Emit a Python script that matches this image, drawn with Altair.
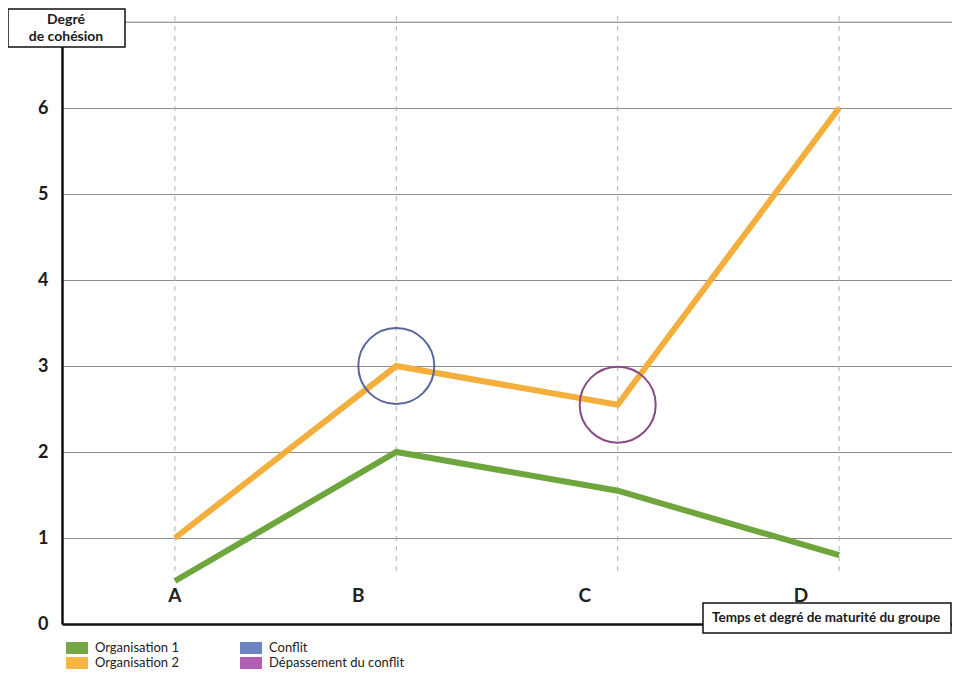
import altair as alt
import pandas as pd

# ---- data ----
etapes = ["A", "B", "C", "D"]
organisation_1 = [0.5, 2.0, 1.55, 0.8]
organisation_2 = [1.0, 3.0, 2.55, 6.0]
series = ["Organisation 1", "Organisation 2"]
annotations = ["Conflit", "Dépassement du conflit"]
etapes_annotees = ["B", "C"]
graduations = [0, 1, 2, 3, 4, 5, 6, 7]
titre_y = ["Degré", "de cohésion"]
titre_x = "Temps et degré de maturité du groupe"

entrees_legende = series + annotations
couleurs_traits = ["#6ea53c", "#f4ae3c", "#58689a", "#874c88"]
couleurs_legende = ["#74a844", "#f6b545", "#6a84c0", "#b05fb2"]
decalage_lettres = [0, -38, -33, -38]

FONT = "Lato"

lignes = pd.DataFrame(
    [{"etape": e, "valeur": v, "serie": series[0]} for e, v in zip(etapes, organisation_1)]
    + [{"etape": e, "valeur": v, "serie": series[1]} for e, v in zip(etapes, organisation_2)]
)
cercles = pd.DataFrame({
    "etape": etapes_annotees,
    "valeur": [organisation_2[etapes.index(e)] for e in etapes_annotees],
    "serie": annotations,
})
lettres = pd.DataFrame({"etape": etapes})
un = pd.DataFrame({"k": [0]})
sommet = pd.DataFrame({"valeur": [graduations[-1]]})

x_enc = alt.X(
    "etape:O",
    scale=alt.Scale(type="point", padding=0.51, domain=etapes),
    axis=alt.Axis(title=None, labels=False, ticks=False, grid=False,
                  domainColor="#111111", domainWidth=2.5),
)
y_enc = alt.Y(
    "valeur:Q",
    scale=alt.Scale(domain=[0, 7.07], nice=False, zero=True),
    axis=alt.Axis(
        values=graduations, title=None, ticks=False,
        labelExpr="datum.value == 7 ? '' : datum.label",
        labelFont=FONT, labelFontSize=18, labelFontWeight="bold",
        labelColor="#1a1a1a", labelPadding=14,
        grid=True, gridColor="#8c8c8c", gridWidth=1,
        domainColor="#111111", domainWidth=2.5,
    ),
)
color_enc = alt.Color(
    "serie:N",
    scale=alt.Scale(domain=entrees_legende, range=couleurs_traits),
    legend=None,
)

reperes = alt.Chart(lettres).mark_rule(
    color="#b0b0b0", strokeWidth=1, strokeDash=[5, 5]
).encode(x=x_enc, y=alt.value(0), y2=alt.value(560))

ligne_haute = alt.Chart(sommet).mark_rule(color="#b0b0b0", strokeWidth=1).encode(
    y=y_enc, x=alt.value(0), x2=alt.value(890)
)

courbes = alt.Chart(lignes).mark_line(strokeWidth=6, strokeJoin="miter").encode(
    x=x_enc, y=y_enc, color=color_enc, detail="serie:N"
)

anneaux = alt.Chart(cercles).mark_point(
    shape="circle", filled=False, size=5776, strokeWidth=2, opacity=1
).encode(x=x_enc, y=y_enc, color=color_enc)

couches_lettres = []
for lettre, d in zip(etapes, decalage_lettres):
    couches_lettres.append(
        alt.Chart(lettres).transform_filter(alt.datum.etape == lettre).mark_text(
            font=FONT, fontSize=19, fontWeight="bold", color="#222222",
            baseline="middle", align="center", dx=d,
        ).encode(x=x_enc, y=alt.value(580), text="etape:N")
    )

# ---- legend (two columns, column-major) ----
couches_legende = []
for i, (nom, coul) in enumerate(zip(entrees_legende, couleurs_legende)):
    col, rang = i // 2, i % 2
    x0 = 4 + col * 174
    y0 = 632 + rang * 15
    couches_legende.append(
        alt.Chart(un).mark_rect(fill=coul).encode(
            x=alt.value(x0), x2=alt.value(x0 + 22),
            y=alt.value(y0 - 6), y2=alt.value(y0 + 6),
        )
    )
    couches_legende.append(
        alt.Chart(un).mark_text(
            text=nom, font=FONT, fontSize=13, color="#222222",
            align="left", baseline="middle",
        ).encode(x=alt.value(x0 + 29), y=alt.value(y0))
    )

boite_y = alt.Chart(un).mark_rect(fill="white", stroke="#111111", strokeWidth=1.5).encode(
    x=alt.value(-54), x2=alt.value(63), y=alt.value(-7), y2=alt.value(31)
)
texte_y = alt.Chart(un).mark_text(
    text=titre_y, font=FONT, fontSize=14, fontWeight="bold", color="#1a1a1a",
    align="center", baseline="middle", lineHeight=17,
).encode(x=alt.value(4), y=alt.value(4))

boite_x = alt.Chart(un).mark_rect(fill="white", stroke="#111111", strokeWidth=1.5).encode(
    x=alt.value(641), x2=alt.value(889), y=alt.value(587), y2=alt.value(617)
)
texte_x = alt.Chart(un).mark_text(
    text=titre_x, font=FONT, fontSize=13.5, fontWeight="bold", color="#1a1a1a",
    align="left", baseline="middle",
).encode(x=alt.value(650), y=alt.value(602))

chart = alt.layer(
    reperes, ligne_haute, courbes, anneaux, *couches_lettres, *couches_legende,
    boite_y, texte_y, boite_x, texte_x
).properties(
    width=890, height=608,
    autosize=alt.AutoSizeParams(type="none"),
    padding={"left": 54, "top": 8, "right": 0, "bottom": 45},
    background="white",
).configure_view(stroke=None)

chart.save("out.html", embed_options={"renderer": "svg", "actions": False})
